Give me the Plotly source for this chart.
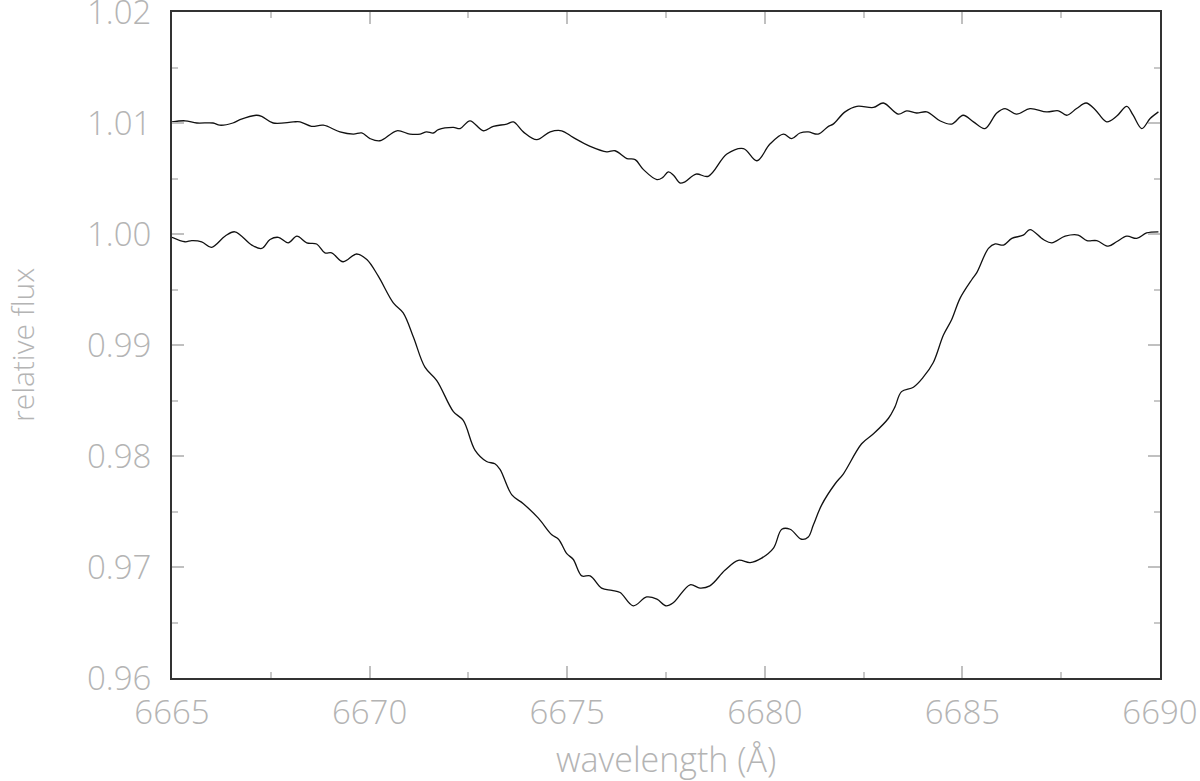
import plotly.graph_objects as go

# Upper spectrum (offset +0.01)
upper_wl = [6665.00, 6665.33, 6665.63, 6666.04, 6666.21, 6666.54, 6666.72, 6667.14, 6667.27, 6667.56,
            6668.07, 6668.24, 6668.53, 6668.83, 6669.25, 6669.59, 6669.80, 6670.01, 6670.26, 6670.69,
            6671.02, 6671.28, 6671.44, 6671.61, 6671.74, 6672.12, 6672.29, 6672.54, 6672.88, 6673.13,
            6673.47, 6673.64, 6673.89, 6674.23, 6674.57, 6674.86, 6675.15, 6675.58, 6676.00, 6676.21,
            6676.51, 6676.72, 6676.93, 6677.27, 6677.42, 6677.56, 6677.69, 6677.85, 6677.98, 6678.26,
            6678.57, 6679.04, 6679.46, 6679.80, 6680.13, 6680.47, 6680.68, 6680.89, 6681.10, 6681.35,
            6681.61, 6681.73, 6682.03, 6682.33, 6682.75, 6683.00, 6683.38, 6683.59, 6683.84, 6684.10,
            6684.43, 6684.73, 6685.02, 6685.28, 6685.57, 6685.87, 6686.08, 6686.37, 6686.71, 6687.13,
            6687.43, 6687.64, 6687.89, 6688.13, 6688.36, 6688.65, 6688.90, 6689.16, 6689.32, 6689.54,
            6689.75, 6689.96]
upper_flux = [1.0101, 1.0102, 1.0100, 1.0100, 1.0098, 1.0100, 1.0103, 1.0107, 1.0106, 1.0100,
              1.0101, 1.0101, 1.0097, 1.0098, 1.0092, 1.0090, 1.0091, 1.0086, 1.0084, 1.0093,
              1.0090, 1.0090, 1.0092, 1.0091, 1.0094, 1.0096, 1.0095, 1.0102, 1.0093, 1.0097,
              1.0099, 1.0101, 1.0092, 1.0085, 1.0092, 1.0093, 1.0087, 1.0079, 1.0074, 1.0075,
              1.0068, 1.0067, 1.0058, 1.0049, 1.0051, 1.0056, 1.0053, 1.0046, 1.0047, 1.0054,
              1.0052, 1.0072, 1.0077, 1.0066, 1.0081, 1.0090, 1.0086, 1.0091, 1.0092, 1.0090,
              1.0097, 1.0099, 1.0110, 1.0115, 1.0114, 1.0118, 1.0108, 1.0111, 1.0109, 1.0110,
              1.0102, 1.0099, 1.0107, 1.0101, 1.0095, 1.0109, 1.0113, 1.0108, 1.0113, 1.0110,
              1.0111, 1.0107, 1.0113, 1.0118, 1.0112, 1.0101, 1.0106, 1.0115, 1.0107, 1.0095,
              1.0104, 1.0110]

# Lower spectrum
lower_wl = [6665.00, 6665.33, 6665.50, 6665.75, 6666.00, 6666.34, 6666.59, 6667.02, 6667.27, 6667.48,
            6667.69, 6667.94, 6668.16, 6668.41, 6668.66, 6668.87, 6669.04, 6669.33, 6669.67, 6669.93,
            6670.22, 6670.60, 6670.85, 6671.11, 6671.40, 6671.70, 6672.12, 6672.37, 6672.67, 6672.96,
            6673.17, 6673.30, 6673.60, 6673.89, 6674.27, 6674.61, 6674.78, 6674.99, 6675.15, 6675.37,
            6675.58, 6675.87, 6676.13, 6676.34, 6676.67, 6677.01, 6677.27, 6677.50, 6677.69, 6678.11,
            6678.36, 6678.61, 6678.99, 6679.33, 6679.63, 6679.92, 6680.22, 6680.43, 6680.64, 6680.93,
            6681.10, 6681.23, 6681.44, 6681.78, 6681.99, 6682.45, 6682.75, 6683.13, 6683.29, 6683.46,
            6683.76, 6684.01, 6684.26, 6684.52, 6684.73, 6684.94, 6685.24, 6685.36, 6685.66, 6685.83,
            6686.04, 6686.25, 6686.54, 6686.71, 6687.05, 6687.26, 6687.60, 6687.93, 6688.15, 6688.40,
            6688.69, 6688.90, 6689.16, 6689.41, 6689.66, 6689.96]
lower_flux = [0.9997, 0.9993, 0.9994, 0.9993, 0.9988, 0.9998, 1.0002, 0.9990, 0.9987, 0.9995,
              0.9997, 0.9992, 0.9998, 0.9992, 0.9991, 0.9983, 0.9983, 0.9975, 0.9982, 0.9977,
              0.9962, 0.9938, 0.9929, 0.9907, 0.9880, 0.9868, 0.9840, 0.9832, 0.9805, 0.9795,
              0.9793, 0.9788, 0.9765, 0.9757, 0.9744, 0.9729, 0.9725, 0.9712, 0.9707, 0.9692,
              0.9692, 0.9681, 0.9679, 0.9677, 0.9665, 0.9673, 0.9671, 0.9665, 0.9668, 0.9684,
              0.9681, 0.9683, 0.9697, 0.9706, 0.9704, 0.9708, 0.9717, 0.9734, 0.9734, 0.9725,
              0.9727, 0.9738, 0.9756, 0.9775, 0.9784, 0.9811, 0.9820, 0.9834, 0.9844, 0.9858,
              0.9862, 0.9871, 0.9884, 0.9909, 0.9923, 0.9942, 0.9959, 0.9965, 0.9987, 0.9991,
              0.9990, 0.9996, 0.9999, 1.0004, 0.9995, 0.9992, 0.9998, 0.9999, 0.9994, 0.9994,
              0.9989, 0.9993, 0.9998, 0.9996, 1.0001, 1.0002]

x_ticks = [6665, 6670, 6675, 6680, 6685, 6690]
y_ticks = [0.96, 0.97, 0.98, 0.99, 1.00, 1.01, 1.02]
y_tick_text = ["0.96", "0.97", "0.98", "0.99", "1.00", "1.01", "1.02"]
x_title = "wavelength (Å)"
y_title = "relative flux"

GRAY = "#b4b4b4"
FONT = "Open Sans"

fig = go.Figure()
for xs, ys in [(upper_wl, upper_flux), (lower_wl, lower_flux)]:
    fig.add_trace(go.Scatter(x=xs, y=ys, mode="lines",
                             line=dict(color="#111111", width=1.3, shape="spline", smoothing=1.0),
                             showlegend=False, hoverinfo="skip"))

axis_common = dict(
    showline=True, linecolor="#333333", linewidth=2, mirror="ticks",
    ticks="inside", ticklen=12, tickwidth=1.5, tickcolor="#c0c0c0",
    showgrid=False, zeroline=False, automargin=False,
    ticklabeloverflow="allow",
    tickfont=dict(family=FONT, size=33, color=GRAY, weight=300),
    minor=dict(ticks="inside", ticklen=6, tickwidth=1.5, tickcolor="#c8c8c8", showgrid=False),
)

fig.update_xaxes(range=[6665, 6690], tickvals=x_ticks, ticktext=[str(v) for v in x_ticks],
                 minor_dtick=2.5, ticklabelstandoff=4, **axis_common)
fig.update_yaxes(range=[0.96, 1.02], tickvals=y_ticks, ticktext=y_tick_text,
                 minor_dtick=0.005, ticklabelstandoff=12, **axis_common)

fig.add_annotation(text=x_title, xref="paper", yref="paper", x=0.5, y=0, yshift=-81,
                   showarrow=False, xanchor="center", yanchor="middle",
                   font=dict(family=FONT, size=34, color=GRAY, weight=300))
fig.add_annotation(text=y_title, xref="paper", yref="paper", x=0, y=0.5, xshift=-150,
                   showarrow=False, xanchor="center", yanchor="middle", textangle=-90,
                   font=dict(family=FONT, size=30, color=GRAY, weight=300))

fig.update_layout(
    width=1200, height=781,
    margin=dict(l=172, r=40, t=12, b=103),
    paper_bgcolor="white", plot_bgcolor="white",
)

# remove the default page margin so the 1200x781 figure fills the window exactly
fig.write_html("out.html", config={"displayModeBar": False},
               post_script="document.body.style.margin='0';document.body.style.overflow='hidden';")
